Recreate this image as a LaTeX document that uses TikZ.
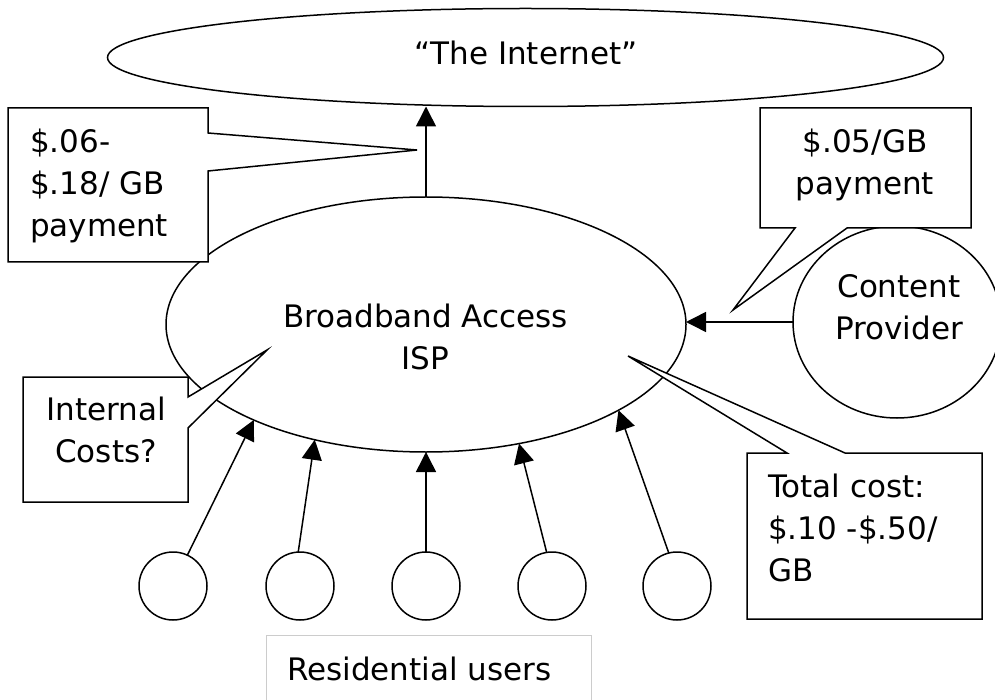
\documentclass[tikz,border=0pt]{standalone}
\usepackage{fontspec}
\setmainfont{DejaVu Sans}
\usetikzlibrary{shapes.geometric,arrows.meta}
\begin{document}
\begin{tikzpicture}[x=1pt,y=-1pt,
  every node/.style={inner sep=0pt,outer sep=0pt},
  lw/.style={line width=1.5pt},
  bubble/.style={draw,lw,ellipse},
  user/.style={draw,lw,circle,minimum size=68pt},
  flow/.style={lw,-{Triangle[length=20pt,width=20pt]}},
  callout/.style={draw,lw,fill=white,line join=miter},
  txt/.style={font=\fontsize{31}{42}\selectfont},
]
\useasboundingbox (0,0) rectangle (995,700);
% main shapes
\node[bubble,minimum width=836pt,minimum height=98pt] (inet) at (525.5,57.5) {};
\node[bubble,minimum width=520pt,minimum height=255pt] (isp) at (426,324.5) {};
\node[bubble,minimum width=208pt,minimum height=192pt] (cp) at (897,322) {};
\node[user] (u1) at (173,586) {};
\node[user] (u2) at (300,586) {};
\node[user] (u3) at (426,586) {};
\node[user] (u4) at (552,586) {};
\node[user] (u5) at (677,586) {};
% texts in shapes
\node[txt,anchor=base] (inettext) at (526,65) {“The Internet”};
\node[txt,anchor=north,align=center] (isptext) at (425.5,298.5) {\strut Broadband Access\\\strut ISP};
\node[txt,anchor=north,align=center] (cptext) at (899,267.6) {\strut Content\\\strut Provider};
% arrows
\draw[flow] (isp.north) -- (isp.north |- inet.south);
\draw[flow] (cp.west) -- (isp.east |- cp.west);
\draw[flow] (u1.65.6) -- (isp.209.4);
\draw[flow] (u2.93) -- (isp.226.9);
\draw[flow] (u3.north) -- (isp.270);
\draw[flow] (u4.99) -- (isp.308.6);
\draw[flow] (u5.104) -- (isp.336.5);
% callouts
\draw[callout] (8,108) -- (208,108) -- (208,133) -- (417,150) -- (208,171) -- (208,262) -- (8,262) -- cycle;
\node[txt,anchor=north west,align=left] (c1text) at (30,123.6) {\strut \$.06-\\\strut \$.18/ GB\\\strut payment};
\draw[callout] (760,108) -- (971,108) -- (971,228) -- (847,228) -- (733,310) -- (795,228) -- (760,228) -- cycle;
\node[txt,anchor=north,align=center] (c2text) at (865,123.6) {\strut \$.05/GB\\\strut payment};
\draw[callout] (23,377) -- (188,377) -- (188,397) -- (267,350) -- (188,428) -- (188,502) -- (23,502) -- cycle;
\node[txt,anchor=north,align=center] (c3text) at (106,390.6) {\strut Internal\\\strut Costs?};
\draw[callout] (747,453) -- (787,453) -- (628,356) -- (845,453) -- (982,453) -- (982,619) -- (747,619) -- cycle;
\node[txt,anchor=north west,align=left] (c4text) at (768,467.6) {\strut Total cost:\\\strut \$.10 -\$.50/\\\strut GB};
% residential users label
\draw[line width=0.8pt,draw=black!20] (266,702) -- (266,635) -- (591,635) -- (591,702);
\node[txt,anchor=base west] (restext) at (287,680) {Residential users};
\end{tikzpicture}
\end{document}
